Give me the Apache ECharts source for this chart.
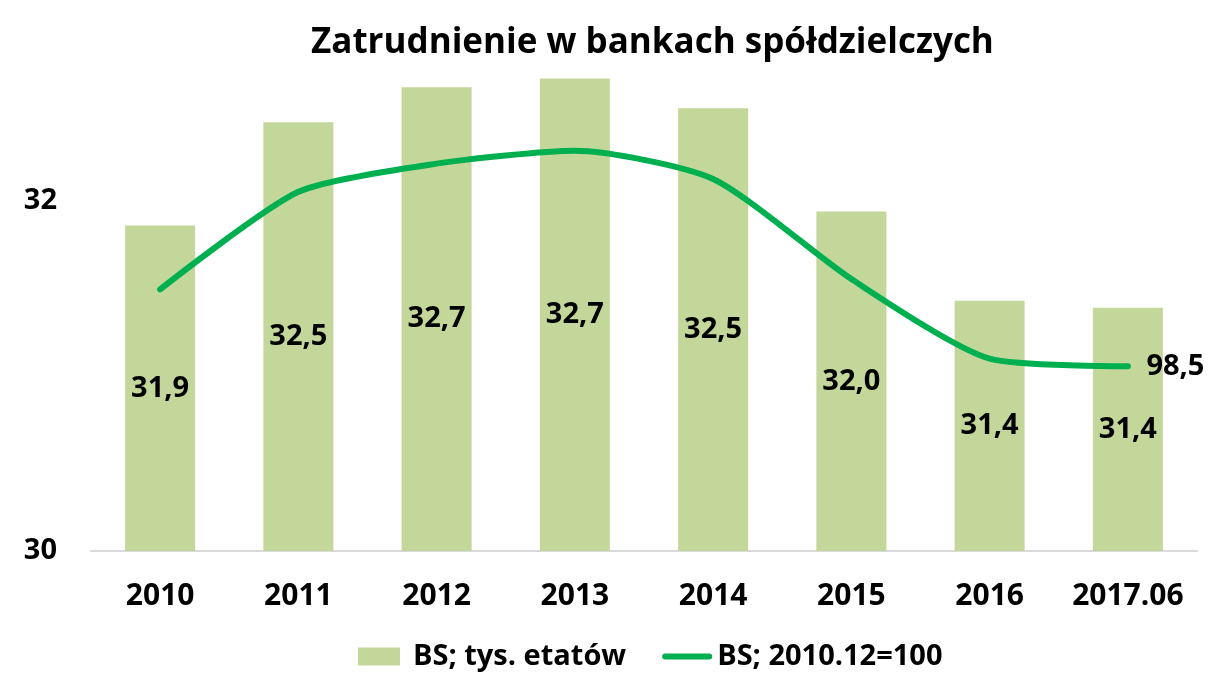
<!DOCTYPE html>
<html>
<head>
<meta charset="utf-8">
<script src="https://cdn.jsdelivr.net/npm/echarts@6/dist/echarts.min.js"></script>
<style>
  html, body { margin: 0; padding: 0; background: #fff; }
  #chart { width: 1217px; height: 678px; }
</style>
</head>
<body>
<div id="chart"></div>
<script>
const years = ['2010', '2011', '2012', '2013', '2014', '2015', '2016', '2017.06'];
const etaty = [31.86, 32.45, 32.65, 32.70, 32.53, 31.94, 31.43, 31.39];
const etatyLabels = ['31,9', '32,5', '32,7', '32,7', '32,5', '32,0', '31,4', '31,4'];
const indeks = [100.0, 101.9, 102.45, 102.7, 102.15, 100.2, 98.65, 98.5];
const yTicks = [30, 32];

const FONT = '"Open Sans"';

const chart = echarts.init(document.getElementById('chart'));

// legend icon for the line: thick rounded bar in the middle of the icon box
const lineIcon = 'path://M0,0L0,0M50,18L50,18M3,6L47,6A3,3,0,0,1,47,12L3,12A3,3,0,0,1,3,6Z';
const rectIcon = 'path://M0,0L0,0M50,18L50,18M0,0L42,0L42,18L0,18Z';

const option = {
  animation: false,
  textStyle: { fontFamily: FONT },
  title: {
    text: 'Zatrudnienie w bankach spółdzielczych',
    left: 306,
    top: 21,
    textStyle: { fontFamily: FONT, fontSize: 35, fontWeight: 'bold', color: '#000' }
  },
  legend: {
    bottom: 2,
    left: 353,
    itemGap: 36,
    itemWidth: 50,
    itemHeight: 18,
    textStyle: { fontFamily: FONT, fontSize: 29, fontWeight: 'bold', color: '#000' },
    data: [
      { name: 'BS; tys. etatów', icon: rectIcon, itemStyle: { color: '#c4d79b' } },
      { name: 'BS; 2010.12=100', icon: lineIcon, itemStyle: { color: '#00b050' } }
    ]
  },
  grid: { left: 91, right: 20, top: 61, bottom: 127 },
  xAxis: {
    type: 'category',
    data: years,
    axisLine: { lineStyle: { color: '#d9d9d9', width: 2 } },
    axisTick: { show: false },
    axisLabel: { interval: 0, fontFamily: FONT, fontSize: 30, fontWeight: 'bold', color: '#000', margin: 30 }
  },
  yAxis: [
    {
      type: 'value',
      min: yTicks[0],
      max: 32.8,
      interval: yTicks[1] - yTicks[0],
      splitLine: { show: false },
      axisLine: { show: false },
      axisTick: { show: false },
      axisLabel: {
        showMaxLabel: false,
        fontFamily: FONT, fontSize: 29, fontWeight: 'bold', color: '#000', margin: 34
      }
    },
    {
      type: 'value',
      min: 94.9,
      max: 104.45,
      show: false
    }
  ],
  series: [
    {
      name: 'BS; tys. etatów',
      type: 'bar',
      data: etaty,
      barWidth: 70,
      itemStyle: { color: '#c4d79b' },
      label: {
        show: true,
        position: 'inside',
        fontFamily: FONT, fontSize: 29, fontWeight: 'bold', color: '#000',
        formatter: p => etatyLabels[p.dataIndex]
      }
    },
    {
      name: 'BS; 2010.12=100',
      type: 'line',
      yAxisIndex: 1,
      data: indeks,
      smooth: 0.22,
      symbol: 'circle',
      symbolSize: 1,
      showSymbol: true,
      lineStyle: { color: '#00b050', width: 6, cap: 'round' },
      itemStyle: { color: '#00b050' },
      label: {
        show: true,
        position: 'right',
        distance: 18,
        fontFamily: FONT, fontSize: 29, fontWeight: 'bold', color: '#000',
        formatter: p => p.dataIndex === indeks.length - 1 ? '98,5' : ''
      },
      z: 3
    }
  ]
};

chart.setOption(option);
window.addEventListener('resize', () => chart.resize());
</script>
</body>
</html>
